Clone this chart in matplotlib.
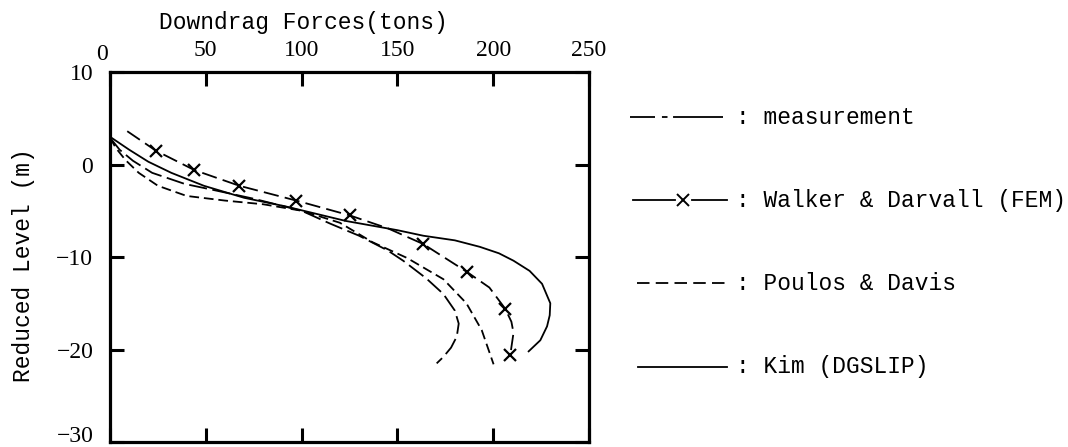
import matplotlib
matplotlib.use("Agg")
import matplotlib.pyplot as plt
from matplotlib.lines import Line2D
from matplotlib.transforms import ScaledTranslation

plt.rcParams['lines.scale_dashes'] = False

# ---- data ----
meas_x = [0, 5, 12, 22, 39, 55, 75, 100, 115, 130, 145, 153, 165, 174, 180, 182, 181, 178, 174, 170.5]
meas_y = [2.9, 1.6, 0.4, -0.9, -2.1, -2.8, -3.7, -5.0, -6.4, -7.7, -9.3, -10.4, -12.3, -14.0, -15.8, -17.2, -18.6, -19.8, -20.8, -21.5]

walker_x = [9, 23.9, 44, 67.5, 97.2, 125.1, 145, 163.5, 186.2, 198, 206.3, 209.5, 210.6, 208.9]
walker_y = [3.6, 1.5, -0.6, -2.3, -3.9, -5.5, -6.9, -8.6, -11.6, -13.3, -15.6, -17.0, -18.2, -20.6]
walker_marks = [1, 2, 3, 4, 5, 7, 8, 10, 13]

poulos_x = [0, 3, 8, 15, 25, 40, 60, 80, 100, 120, 137, 155, 174, 186, 194, 200.2]
poulos_y = [2.9, 1.8, 0.5, -0.9, -2.3, -3.4, -3.9, -4.3, -5.0, -6.3, -8.4, -10.1, -12.4, -15.0, -17.9, -21.6]

kim_x = [0, 10, 20, 32, 49, 70, 91, 123, 150, 163.5, 180, 193, 203, 210.6, 219, 225.5, 229.8, 229.5, 228.1, 224.6, 218.5]
kim_y = [3.0, 1.6, 0.3, -0.9, -2.3, -3.6, -4.5, -6.1, -7.1, -7.7, -8.2, -8.9, -9.6, -10.4, -11.5, -12.9, -15.0, -16.3, -17.5, -19.0, -20.2]

x_ticks = [0, 50, 100, 150, 200, 250]
y_ticks = [-30, -20, -10, 0, 10]

legend_labels = [": measurement", ": Walker & Darvall (FEM)", ": Poulos & Davis", ": Kim (DGSLIP)"]

W, H = 1068, 447
fig = plt.figure(figsize=(W / 100, H / 100), dpi=100)
ax = fig.add_axes([110 / W, 1 - 442 / H, (589 - 110) / W, (442 - 72) / H])

lw = 1.3
ax.plot(meas_x, meas_y, color='black', lw=lw, linestyle=(0, (13, 4)))
ax.plot(walker_x, walker_y, color='black', lw=lw, linestyle=(0, (11, 4.5)),
        marker='x', markevery=walker_marks, markersize=8, markeredgewidth=1.6)
ax.plot(poulos_x, poulos_y, color='black', lw=lw, linestyle=(0, (7, 3.5)))
ax.plot(kim_x, kim_y, color='black', lw=lw, linestyle='-')

ax.set_xlim(0, 250)
ax.set_ylim(-30, 10)
ax.set_xticks(x_ticks)
ax.set_yticks(y_ticks)
ax.xaxis.set_ticks_position('both')
ax.yaxis.set_ticks_position('both')
ax.tick_params(axis='x', which='both', direction='in', length=10, width=2.2,
               labeltop=True, labelbottom=False, pad=8)
ax.tick_params(axis='y', which='both', direction='in', length=10, width=2.2,
               labelleft=True, labelright=False, pad=12)
for lab in ax.get_xticklabels() + ax.get_yticklabels():
    lab.set_fontfamily('Liberation Serif')
    lab.set_fontsize(17)

# small nudges of the corner labels, as in the reference
xl = ax.get_xticklabels()
xl[0].set_transform(xl[0].get_transform() + ScaledTranslation(-8 / 100, -4 / 100, fig.dpi_scale_trans))
yl = ax.get_yticklabels()
yl[0].set_transform(yl[0].get_transform() + ScaledTranslation(0, 8 / 100, fig.dpi_scale_trans))

for sp in ax.spines.values():
    sp.set_linewidth(2.3)

mono = 'Liberation Mono'
fig.text(303 / W, 1 - 22 / H, "Downdrag Forces(tons)", family=mono, fontsize=16.5,
         ha='center', va='center')
fig.text(24 / W, 1 - 265 / H, "Reduced Level (m)", family=mono, fontsize=16.5,
         ha='center', va='center', rotation=90)

# ---- legend drawn by hand on the right ----
rows_y = [117, 200, 283, 367]
def fx(px):
    return px / W
def fy(py):
    return 1 - py / H

# measurement sample
fig.add_artist(Line2D([fx(630), fx(723)], [fy(rows_y[0])] * 2, color='black', lw=lw,
                      linestyle=(0, (18, 5, 4, 4, 36, 5))))
# Walker sample
fig.add_artist(Line2D([fx(633), fx(675)], [fy(rows_y[1])] * 2, color='black', lw=lw))
fig.add_artist(Line2D([fx(692), fx(727)], [fy(rows_y[1])] * 2, color='black', lw=lw))
fig.add_artist(Line2D([fx(683)], [fy(rows_y[1])], color='black', marker='x',
                      markersize=8, markeredgewidth=1.4, linestyle='none'))
# Poulos sample
fig.add_artist(Line2D([fx(637), fx(725)], [fy(rows_y[2])] * 2, color='black', lw=lw,
                      linestyle=(0, (9, 4.5))))
# Kim sample
fig.add_artist(Line2D([fx(638), fx(727)], [fy(rows_y[3])] * 2, color='black', lw=lw))

for yy, lab in zip(rows_y, legend_labels):
    fig.text(fx(736), fy(yy), lab, family=mono, fontsize=16.5, ha='left', va='center')

fig.savefig("out.png", dpi=100)
